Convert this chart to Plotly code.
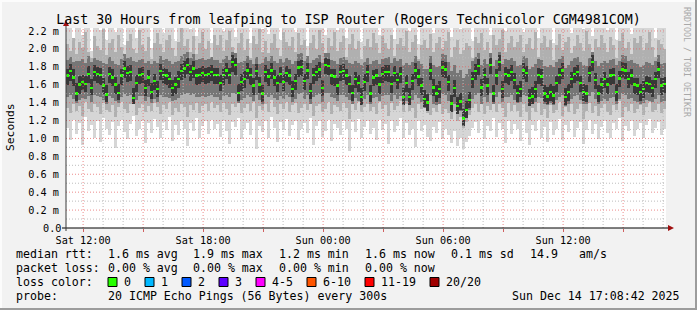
import plotly.graph_objects as go
from datetime import datetime, timedelta

# ---------------- data (values in hundredths of a millisecond) ----------------
START = datetime(2025, 12, 13, 11, 8, 42)
END = datetime(2025, 12, 14, 17, 8, 42)
STEP_MIN = 9

median = [
    170,175,168,150,160,163,161,172,156,174, 172,171,159,149,172,168,160,151,170,178,
    173,174,145,162,171,172,156,168,152,164, 155,175,171,170,166,156,160,166,175,178,
    182,174,178,170,171,173,171,172,174,171,
    171,162,171,176,171,185,182,151,163,166, 176,171,159,175,160,150,174,169,176,168,
    162,172,163,173,170,155,164,179,180,164, 176,153,171,174,177,156,182,181,170,169,
    159,174,175,170,161,151,166,162,146,163,
    174,150,168,170,160,172,174,174,161,173, 165,172,146,162,146,164,176,169,159,144,
    140,176,157,150,155,179,177,163,139,156, 136,141,122,132,143,166,175,181,157,171,
    159,182,150,170,185,155,172,170,174,165,
    151,155,176,173,145,147,155,171,169,150, 147,152,148,162,171,176,146,152,166,172,
    174,162,152,150,173,185,165,150,160,166, 160,170,171,152,167,177,176,166,170,160,
    159,152,155,162,161,156,166,177,159,161,
]

smoke_max = [
    230,224,205,232,228,215,240,226,198,235, 229,221,236,210,227,233,219,238,225,204,
    231,236,227,212,239,223,229,234,201,226, 237,230,218,228,235,224,209,233,240,226,
    231,222,236,214,229,238,225,232,207,235, 228,236,220,233,239,226,213,230,237,224,
    231,206,235,228,240,222,233,217,229,236, 225,210,238,231,227,234,219,237,226,232,
    203,229,236,224,239,230,215,233,227,238, 221,230,235,212,228,237,224,231,208,226,
    233,225,238,229,216,235,230,224,237,211, 228,234,226,239,220,231,236,205,229,233,
    227,238,218,230,235,224,232,239,213,228, 236,222,230,237,226,209,234,229,238,223,
    231,216,236,227,233,240,220,229,235,226, 231,237,219,228,234,224,239,212,230,236,
    226,233,207,229,238,224,231,235,218,227, 236,230,222,239,228,214,233,226,237,230,
    221,235,228,210,232,238,225,231,217,234, 229,236,223,230,239,226,212,233,228,224,
]

smoke_min = [
    112,98,121,105,117,93,124,108,115,101, 119,96,123,110,104,118,89,114,121,107,
    99,116,125,103,111,120,95,117,106,122, 113,100,118,109,124,97,115,104,120,111,
    92,117,108,123,101,114,119,105,121,110, 116,102,120,108,94,118,113,123,99,110,
    117,104,121,88,114,107,119,101,124,112, 96,118,109,122,103,115,120,98,111,117,
    106,123,93,114,119,102,108,121,97,116, 112,104,120,110,86,118,107,122,101,113,
    119,105,112,98,121,109,116,94,120,107, 114,123,100,117,104,111,91,119,108,115,
    102,97,113,106,118,99,110,104,95,108, 92,100,88,96,103,112,118,106,121,99,
    114,108,123,102,117,110,95,119,105,116, 111,97,120,106,93,115,108,121,100,113,
    96,118,104,110,122,98,115,107,120,102, 112,118,94,109,121,105,116,99,113,119,
    106,101,117,110,123,97,114,108,120,103, 111,117,100,115,122,106,112,118,104,110,
]

p10_hi = [
    205,198,212,194,208,201,219,196,190,214, 203,199,222,193,207,211,197,215,202,188,
    209,217,200,195,221,204,198,213,189,206, 218,205,196,210,216,201,192,208,223,203,
    211,197,214,194,206,219,200,209,191,215, 204,216,198,210,220,202,193,207,218,199,
    211,190,214,205,222,197,209,195,206,217, 201,192,219,208,203,213,196,218,204,210,
    188,206,215,200,221,207,194,212,203,219, 198,208,214,191,205,217,200,209,189,203,
    211,202,218,206,195,214,207,200,216,192, 205,212,203,220,197,208,215,189,204,210,
    201,217,196,206,213,200,209,219,191,202, 210,194,199,207,203,190,213,206,218,199,
    208,193,215,204,211,221,197,206,214,202, 208,215,196,205,212,200,219,191,207,214,
    202,210,188,204,217,199,208,213,195,203, 215,207,198,220,205,193,211,202,216,207,
    197,213,204,190,209,218,201,208,194,212, 206,214,199,207,219,202,191,210,205,200,
]

p10_lo = [
    134,128,139,131,136,125,141,133,129,138, 135,127,140,132,130,137,124,135,141,133,
    128,139,142,126,134,138,129,136,131,140, 135,127,137,133,141,126,134,130,139,135,
    124,137,132,140,128,136,138,131,141,134, 137,130,140,133,126,138,135,142,128,134,
    139,131,141,123,136,132,139,129,143,135, 127,138,133,141,130,137,140,128,134,138,
    132,142,125,136,139,130,133,141,127,137, 135,131,140,134,122,138,132,141,129,135,
    139,131,135,127,141,133,137,125,140,132, 136,142,129,138,131,134,123,139,133,136,
    128,126,134,130,139,127,133,128,122,131, 120,124,112,118,126,134,139,130,141,127,
    136,132,142,129,138,134,124,140,131,137, 131,124,138,130,121,134,129,140,126,133,
    123,137,128,132,141,125,135,130,139,127, 133,138,122,131,140,128,136,125,134,139,
    130,126,137,132,142,124,135,131,139,128, 133,137,126,135,141,129,132,138,128,133,
]

p25_hi = [
    188,191,185,186,186,189,184,192,185,190, 188,187,184,183,191,187,183,182,189,194,
    190,191,186,185,188,189,184,187,183,186, 184,192,188,189,186,183,185,187,192,194,
    196,190,194,188,189,190,188,189,191,188, 188,184,189,192,188,197,195,184,185,186,
    192,188,183,191,183,184,191,187,192,186, 184,189,185,190,188,183,186,194,195,186,
    192,184,188,190,193,184,195,195,188,187, 183,190,191,188,184,183,186,184,182,185,
    190,183,186,188,183,189,190,191,184,190, 186,189,182,184,182,185,192,187,183,178,
    177,192,182,180,181,194,193,185,175,182, 173,176,168,172,177,186,191,195,182,189,
    183,195,181,188,197,183,189,188,190,186, 181,182,192,190,178,180,183,189,188,181,
    180,182,180,185,189,192,179,182,186,190, 191,185,182,181,190,197,186,181,184,186,
    184,188,189,182,186,193,192,186,188,184, 183,180,182,185,184,182,186,193,183,184,
]

p25_lo = [
    146,148,144,140,143,145,144,147,141,148, 147,146,143,139,147,145,142,140,146,150,
    147,148,138,143,147,147,142,146,140,144, 141,148,146,146,145,142,143,145,148,150,
    151,148,150,146,146,147,146,147,148,146, 146,143,147,149,146,151,150,140,143,145,
    149,146,142,148,143,139,148,146,149,145, 143,147,144,148,146,141,144,150,151,144,
    148,139,146,148,150,141,151,151,146,145, 142,148,149,146,143,139,145,142,138,144,
    148,139,145,146,142,147,148,148,142,148, 144,147,137,142,137,143,149,145,141,134,
    132,148,139,137,138,150,149,142,130,139, 128,131,120,126,132,144,148,151,139,146,
    141,151,139,146,152,141,146,146,148,143, 140,141,148,147,136,138,141,146,145,139,
    137,140,137,143,146,149,136,139,144,147, 148,143,139,138,147,152,144,138,142,144,
    142,145,146,139,144,150,149,144,145,142, 141,138,140,143,142,141,144,149,141,142,
]

core_lo = [
    160,164,158,142,150,154,152,162,148,164, 162,160,150,141,162,158,150,143,160,168,
    163,164,138,152,161,162,147,158,144,154, 146,165,161,160,156,147,150,156,165,168,
    172,164,168,160,161,163,161,162,164,161, 161,153,160,166,161,174,171,142,153,156,
    166,160,149,165,151,141,163,159,166,158, 152,162,153,163,160,146,154,169,170,154,
    166,144,161,164,167,147,172,171,160,159, 149,164,165,160,151,142,156,152,137,153,
    163,141,158,160,150,162,164,163,151,163, 155,162,137,152,137,154,166,159,149,135,
    131,165,147,141,145,169,167,153,130,146, 127,132,114,123,134,156,165,171,147,161,
    149,172,141,160,175,145,162,160,164,155, 141,146,166,163,136,138,145,161,159,141,
    138,142,139,152,161,166,137,142,156,162, 164,152,142,141,163,175,155,141,150,156,
    150,160,161,142,157,167,166,156,160,150, 149,142,145,152,151,146,156,167,149,151,
]

core_hi = [
    178,183,177,162,170,171,170,181,166,182, 180,179,168,160,180,177,169,161,178,186,
    181,182,156,171,179,180,165,176,162,172, 164,183,179,178,174,165,169,175,183,186,
    190,182,186,178,179,181,179,180,182,179, 179,171,179,184,179,193,190,161,172,175,
    184,179,168,183,169,160,182,177,184,176, 171,180,172,181,178,164,172,187,188,172,
    184,162,179,182,185,165,190,189,178,177, 168,182,183,178,170,160,174,171,156,172,
    182,160,176,178,169,180,182,182,170,181, 173,180,156,171,156,172,184,177,168,154,
    150,184,166,160,164,187,185,171,149,165, 146,151,133,142,152,174,183,189,166,179,
    168,190,160,178,193,164,180,178,182,173, 160,164,184,181,155,157,164,179,177,160,
    157,161,158,170,179,184,156,161,174,180, 182,170,161,160,181,193,173,160,168,174,
    168,178,179,161,175,185,184,174,178,168, 167,161,164,170,169,165,174,185,167,169,
]

# y ticks (ms) and labels
y_tick_vals = [0.2, 0.4, 0.6, 0.8, 1.0, 1.2, 1.4, 1.6, 1.8, 2.0, 2.2]
y_tick_text = ["0.2 m", "0.4 m", "0.6 m", "0.8 m", "1.0 m", "1.2 m",
               "1.4 m", "1.6 m", "1.8 m", "2.0 m", "2.2 m"]
y_zero_label = "0.0"
x_tick_labels = ["Sat 12:00", "Sat 18:00", "Sun 00:00", "Sun 06:00", "Sun 12:00"]

# legend / stats text
title_text = "Last 30 Hours from leafping to ISP Router (Rogers Technicolor CGM4981COM)"
rtt_items = ["1.6 ms avg", "1.9 ms max", "1.2 ms min", "1.6 ms now", "0.1 ms sd", "14.9", "am/s"]
loss_items = ["0.00 % avg", "0.00 % max", "0.00 % min", "0.00 % now"]
loss_labels = ["0", "1", "2", "3", "4-5", "6-10", "11-19", "20/20"]
loss_colors = ["#26ff00", "#00b8ff", "#0059ff", "#5e00ff", "#ff00ff", "#ff5500", "#ff0000", "#a00000"]
probe_text = "20 ICMP Echo Pings (56 Bytes) every 300s"
stamp_text = "Sun Dec 14 17:08:42 2025"

series = [median, smoke_max, smoke_min, p10_hi, p10_lo, p25_hi, p25_lo, core_lo, core_hi]
for s in series:
    assert len(s) == 200, len(s)

# ---------------- figure ----------------
FONT = "DejaVu Sans Mono"
W, H = 697, 310
PL, PR, PT, PB = 66, 666, 28, 228          # plot area in pixels
YMAX = 2.233


def px(x):
    return (x - PL) / (PR - PL)


def py(y):
    return (PB - y) / (PB - PT)


n = len(median)
times = [START + timedelta(minutes=STEP_MIN * (i + 0.5)) for i in range(n)]
bar_w = STEP_MIN * 60 * 1000


def ms(a):
    return [v / 100 for v in a]


fig = go.Figure()


def band(lo, hi, color):
    lo_v, hi_v = ms(lo), ms(hi)
    fig.add_trace(go.Bar(
        x=times, base=lo_v, y=[h - l for h, l in zip(hi_v, lo_v)], width=bar_w,
        marker=dict(color=color, line=dict(width=0)), hoverinfo="skip", showlegend=False))


band(smoke_min, smoke_max, "#d6d6d6")
band(p10_lo, p10_hi, "#b0b0b0")
band(p25_lo, p25_hi, "#767676")
band(core_lo, core_hi, "#383838")

med = ms(median)
fig.add_trace(go.Bar(
    x=times, base=[m - 0.013 for m in med], y=[0.027] * n, width=bar_w,
    marker=dict(color=loss_colors[0], line=dict(width=0)), hoverinfo="skip", showlegend=False))

shapes = []
# vertical grid (hourly minor, 3-hourly major)
t = datetime(2025, 12, 13, 12, 0, 0)
while t < END:
    major = t.hour % 3 == 0
    shapes.append(dict(type="line", xref="x", yref="paper", x0=t, x1=t, y0=0, y1=1,
                       layer="above",
                       line=dict(color="rgba(230,100,100,0.75)" if major else "#bdbdbd",
                                 width=1, dash="1px,2px")))
    t += timedelta(hours=1)
# horizontal grid
for k in range(1, 23):
    v = k * 0.1
    major = k % 2 == 0
    shapes.append(dict(type="line", xref="paper", yref="y", x0=0, x1=1, y0=v, y1=v,
                       layer="above",
                       line=dict(color="rgba(230,100,100,0.75)" if major else "#bdbdbd",
                                 width=1, dash="1px,2px")))

# axis extensions and arrows
shapes.append(dict(type="line", xref="paper", yref="paper", x0=px(PL - 4), x1=px(670),
                   y0=0, y1=0, layer="above", line=dict(color="#000000", width=1)))
shapes.append(dict(type="line", xref="paper", yref="paper", x0=0, x1=0,
                   y0=py(PB + 3), y1=py(23), layer="above", line=dict(color="#3a3a3a", width=1)))
shapes.append(dict(type="path", xref="paper", yref="paper", layer="above",
                   path=f"M {px(668)} {py(225)} L {px(674)} {py(228)} L {px(668)} {py(231)} Z",
                   fillcolor="#a01010", line=dict(width=0)))
shapes.append(dict(type="path", xref="paper", yref="paper", layer="above",
                   path=f"M {px(63)} {py(26)} L {px(66)} {py(20)} L {px(69)} {py(26)} Z",
                   fillcolor="#a01010", line=dict(width=0)))

# frame of the picture
shapes.append(dict(type="rect", xref="paper", yref="paper", x0=px(0), x1=px(W), y0=py(0), y1=py(2),
                   fillcolor="#fcfcfc", line=dict(width=0), layer="below"))
shapes.append(dict(type="rect", xref="paper", yref="paper", x0=px(0), x1=px(2), y0=py(0), y1=py(H),
                   fillcolor="#fcfcfc", line=dict(width=0), layer="below"))
shapes.append(dict(type="rect", xref="paper", yref="paper", x0=px(0), x1=px(W), y0=py(H - 2), y1=py(H),
                   fillcolor="#9c9c9c", line=dict(width=0), layer="below"))
shapes.append(dict(type="rect", xref="paper", yref="paper", x0=px(W - 2), x1=px(W), y0=py(0), y1=py(H),
                   fillcolor="#9c9c9c", line=dict(width=0), layer="below"))

annotations = []


def text(s, x, y, size=11.6, anchor="left", color="#000000", angle=0):
    annotations.append(dict(text=s, x=px(x), y=py(y), xref="paper", yref="paper",
                            xanchor=anchor, yanchor="middle", showarrow=False,
                            textangle=angle, borderpad=0,
                            font=dict(family=FONT, size=size, color=color)))


text(y_zero_label, 62, 228, size=10.2, anchor="right")
text("Seconds", 10, 127, size=11.3, anchor="center", angle=-90)
text("RRDTOOL / TOBI OETIKER", 687, 62, size=8.3, anchor="center", color="#a8a8a8", angle=90)

row1, row2, row3, row4 = 254, 268, 282, 296
col_x = [107, 192, 278, 364, 450, 529, 578]
text("median rtt:", 15, row1)
for s, x in zip(rtt_items, col_x):
    text(s, x, row1)
text("packet loss:", 15, row2)
for s, x in zip(loss_items, col_x):
    text(s, x, row2)
text("loss color:", 15, row3)
box_x = [108, 145, 182, 219, 256, 307, 365, 430]
for lab, col, bx in zip(loss_labels, loss_colors, box_x):
    shapes.append(dict(type="rect", xref="paper", yref="paper",
                       x0=px(bx), x1=px(bx + 9), y0=py(277.5), y1=py(286.5),
                       fillcolor=col, line=dict(color="#000000", width=1)))
    text(lab, bx + 15, row3)
text("probe:", 15, row4)
text(probe_text, 107, row4)
text(stamp_text, 681, row4, anchor="right")

# x tick values every 3 hours, labels every 6
x_ticks = [datetime(2025, 12, 13, 12, 0, 0) + timedelta(hours=3 * k) for k in range(10)]
x_text = []
for k in range(10):
    x_text.append(x_tick_labels[k // 2] if k % 2 == 0 else "")

fig.update_layout(
    width=W, height=H,
    margin=dict(l=PL, r=W - PR, t=PT, b=H - PB, pad=0),
    paper_bgcolor="#f2f2f2", plot_bgcolor="#ffffff",
    barmode="overlay", bargap=0,
    font=dict(family=FONT, size=10, color="#000000"),
    title=dict(text=title_text, x=0.5, xanchor="center", xref="container",
               y=1 - 19.5 / H, yanchor="middle", yref="container",
               font=dict(family=FONT, size=13.3, color="#000000")),
    xaxis=dict(type="date", range=[START, END], tickvals=x_ticks, ticktext=x_text,
               ticks="outside", ticklen=3, tickcolor="#d06060", showgrid=False,
               zeroline=False, showline=False, tickfont=dict(family=FONT, size=10.2),
               fixedrange=True),
    yaxis=dict(range=[0, YMAX], tickvals=y_tick_vals, ticktext=y_tick_text,
               ticks="outside", ticklen=4, tickcolor="rgba(0,0,0,0)", showgrid=False,
               zeroline=False, showline=False, tickfont=dict(family=FONT, size=10.2),
               fixedrange=True),
    shapes=shapes, annotations=annotations, showlegend=False,
)

fig.write_html("out.html", config={"displayModeBar": False})
